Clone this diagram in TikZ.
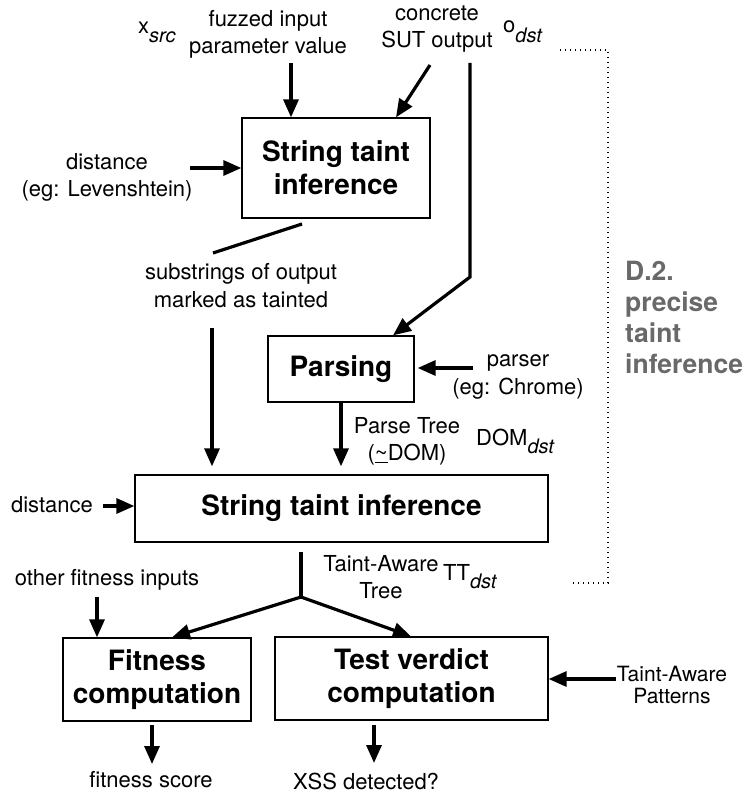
\documentclass[tikz,border=0pt]{standalone}
\usepackage{fontspec}
\setmainfont{TeX Gyre Heros}
\usetikzlibrary{arrows.meta,calc}
\definecolor{dgray}{RGB}{105,105,105}
\newcommand\mysub[1]{{\fontsize{20}{20}\selectfont\itshape #1}}
\begin{document}
\begin{tikzpicture}[x=1pt,y=-1pt,
  box/.style={draw, line width=1.3pt, inner sep=0pt, font=\fontsize{28}{33}\selectfont\bfseries, align=center},
  lbl/.style={font=\fontsize{22}{27.5}\selectfont, align=center, inner sep=0pt},
  arr/.style={line width=3.2pt, -{Triangle[length=18pt,width=15pt]}},
  ln/.style={line width=3.2pt},
  dotline/.style={line width=1.2pt, dash pattern=on 1.2pt off 3.8pt}
]
\useasboundingbox (0,0) rectangle (746,794);

% boxes
\node[box, minimum width=188pt, minimum height=100pt] (b1) at (336,168) {String taint\\inference};
\node[box, minimum width=146pt, minimum height=66pt] (parse) at (341,369) {Parsing};
\node[box, minimum width=413pt, minimum height=67pt] (b2) at (341.5,508.5) {String taint inference};
\node[box, minimum width=188pt, minimum height=83pt] (fit) at (157,679.5) {Fitness\\computation};
\node[box, minimum width=273pt, minimum height=83pt] (test) at (411.5,678.5) {Test verdict\\computation};

% labels
\node[lbl, anchor=base west] (xsrc) at (138,34) {x\raisebox{-9pt}{\mysub{src}}};
\node[lbl] (fuzz) at (268,34.5) {fuzzed input\\parameter value};
\node[lbl] (conc) at (437,29) {concrete\\SUT output};
\node[lbl, anchor=base west] (odst) at (503,33) {o\raisebox{-10pt}{\mysub{dst}}};
\node[lbl] (dist1) at (107,177.5) {distance\\(eg: Levenshtein)};
\node[lbl] (subs) at (241,285.5) {substrings of output\\marked as tainted};
\node[lbl] (parser) at (518,377) {parser\\(eg: Chrome)};
\node[lbl] (ptree) at (407,441.5) {Parse Tree\\(\underline{\textasciitilde}DOM)};
\node[lbl, anchor=base west] (domdst) at (476,445) {DOM\raisebox{-8pt}{\mysub{dst}}};
\node[lbl] (dist2) at (52,505) {distance};
\node[lbl] (tatree) at (381,577) {Taint-Aware\\Tree};
\node[lbl, anchor=base west] (ttdst) at (443,580) {TT\raisebox{-8pt}{\mysub{dst}}};
\node[lbl] (ofi) at (107,580) {other fitness inputs};
\node[lbl] (fscore) at (151,780) {fitness score};
\node[lbl] (xss) at (366,781) {XSS detected?};
\node[lbl, font=\fontsize{21}{22.5}\selectfont] (tapat) at (672,685) {Taint-Aware\\Patterns};
\node[inner sep=0pt, anchor=north west, align=left, text=dgray,
      font=\fontsize{26.5}{31}\selectfont\bfseries] (d2) at (625,261) {D.2.\\precise\\taint\\inference};

% dotted bracket
\coordinate (dt1) at (560,50);
\coordinate (dt2) at (608,50);
\coordinate (dt3) at (608,583);
\coordinate (dt4) at (571,583);
\draw[dotline] (dt1) -- (dt2) -- (dt3) -- (dt4);

% connectors
\coordinate (fz) at (291,63);
\draw[arr] (fz) -- (fz |- b1.north);
\coordinate (cc) at (430,65);
\draw[arr] (cc) -- (396,0 |- b1.north);
\coordinate (sv) at (470,63);
\coordinate (sk) at (470,277);
\draw[arr] (sv) -- (sk) -- (393,0 |- parse.north);
\coordinate (d1a) at (190,168);
\draw[arr] (d1a) -- (d1a -| b1.west);
\coordinate (sl1) at (302,224);
\coordinate (sl2) at (213,253);
\draw[ln] (sl1) -- (sl2);
\coordinate (la) at (212,328);
\draw[arr] (la) -- ($(la |- b2.north)+(0,-8)$);
\coordinate (pa) at (473,368);
\draw[arr] (pa) -- ($(pa -| parse.east)+(3,0)$);
\draw[arr] (parse.south) -- ($(parse.south |- b2.north)+(0,-8)$);
\coordinate (d2a) at (103,506);
\draw[arr] (d2a) -- (d2a -| b2.west);
\coordinate (j) at (301,597);
\draw[ln] ($(301,0 |- b2.south)+(0,9)$) -- (j);
\draw[arr] (j) -- (172,0 |- fit.north);
\draw[arr] (j) -- (411,0 |- test.north);
\coordinate (oa) at (97,597);
\draw[arr] (oa) -- (oa |- fit.north);
\coordinate (fo) at (152,725);
\draw[arr] (fo) -- (152,764);
\coordinate (xo) at (374,725);
\draw[arr] (xo) -- (374,763);
\coordinate (tp) at (616,679);
\draw[arr] (tp) -- (tp -| test.east);
\end{tikzpicture}
\end{document}
